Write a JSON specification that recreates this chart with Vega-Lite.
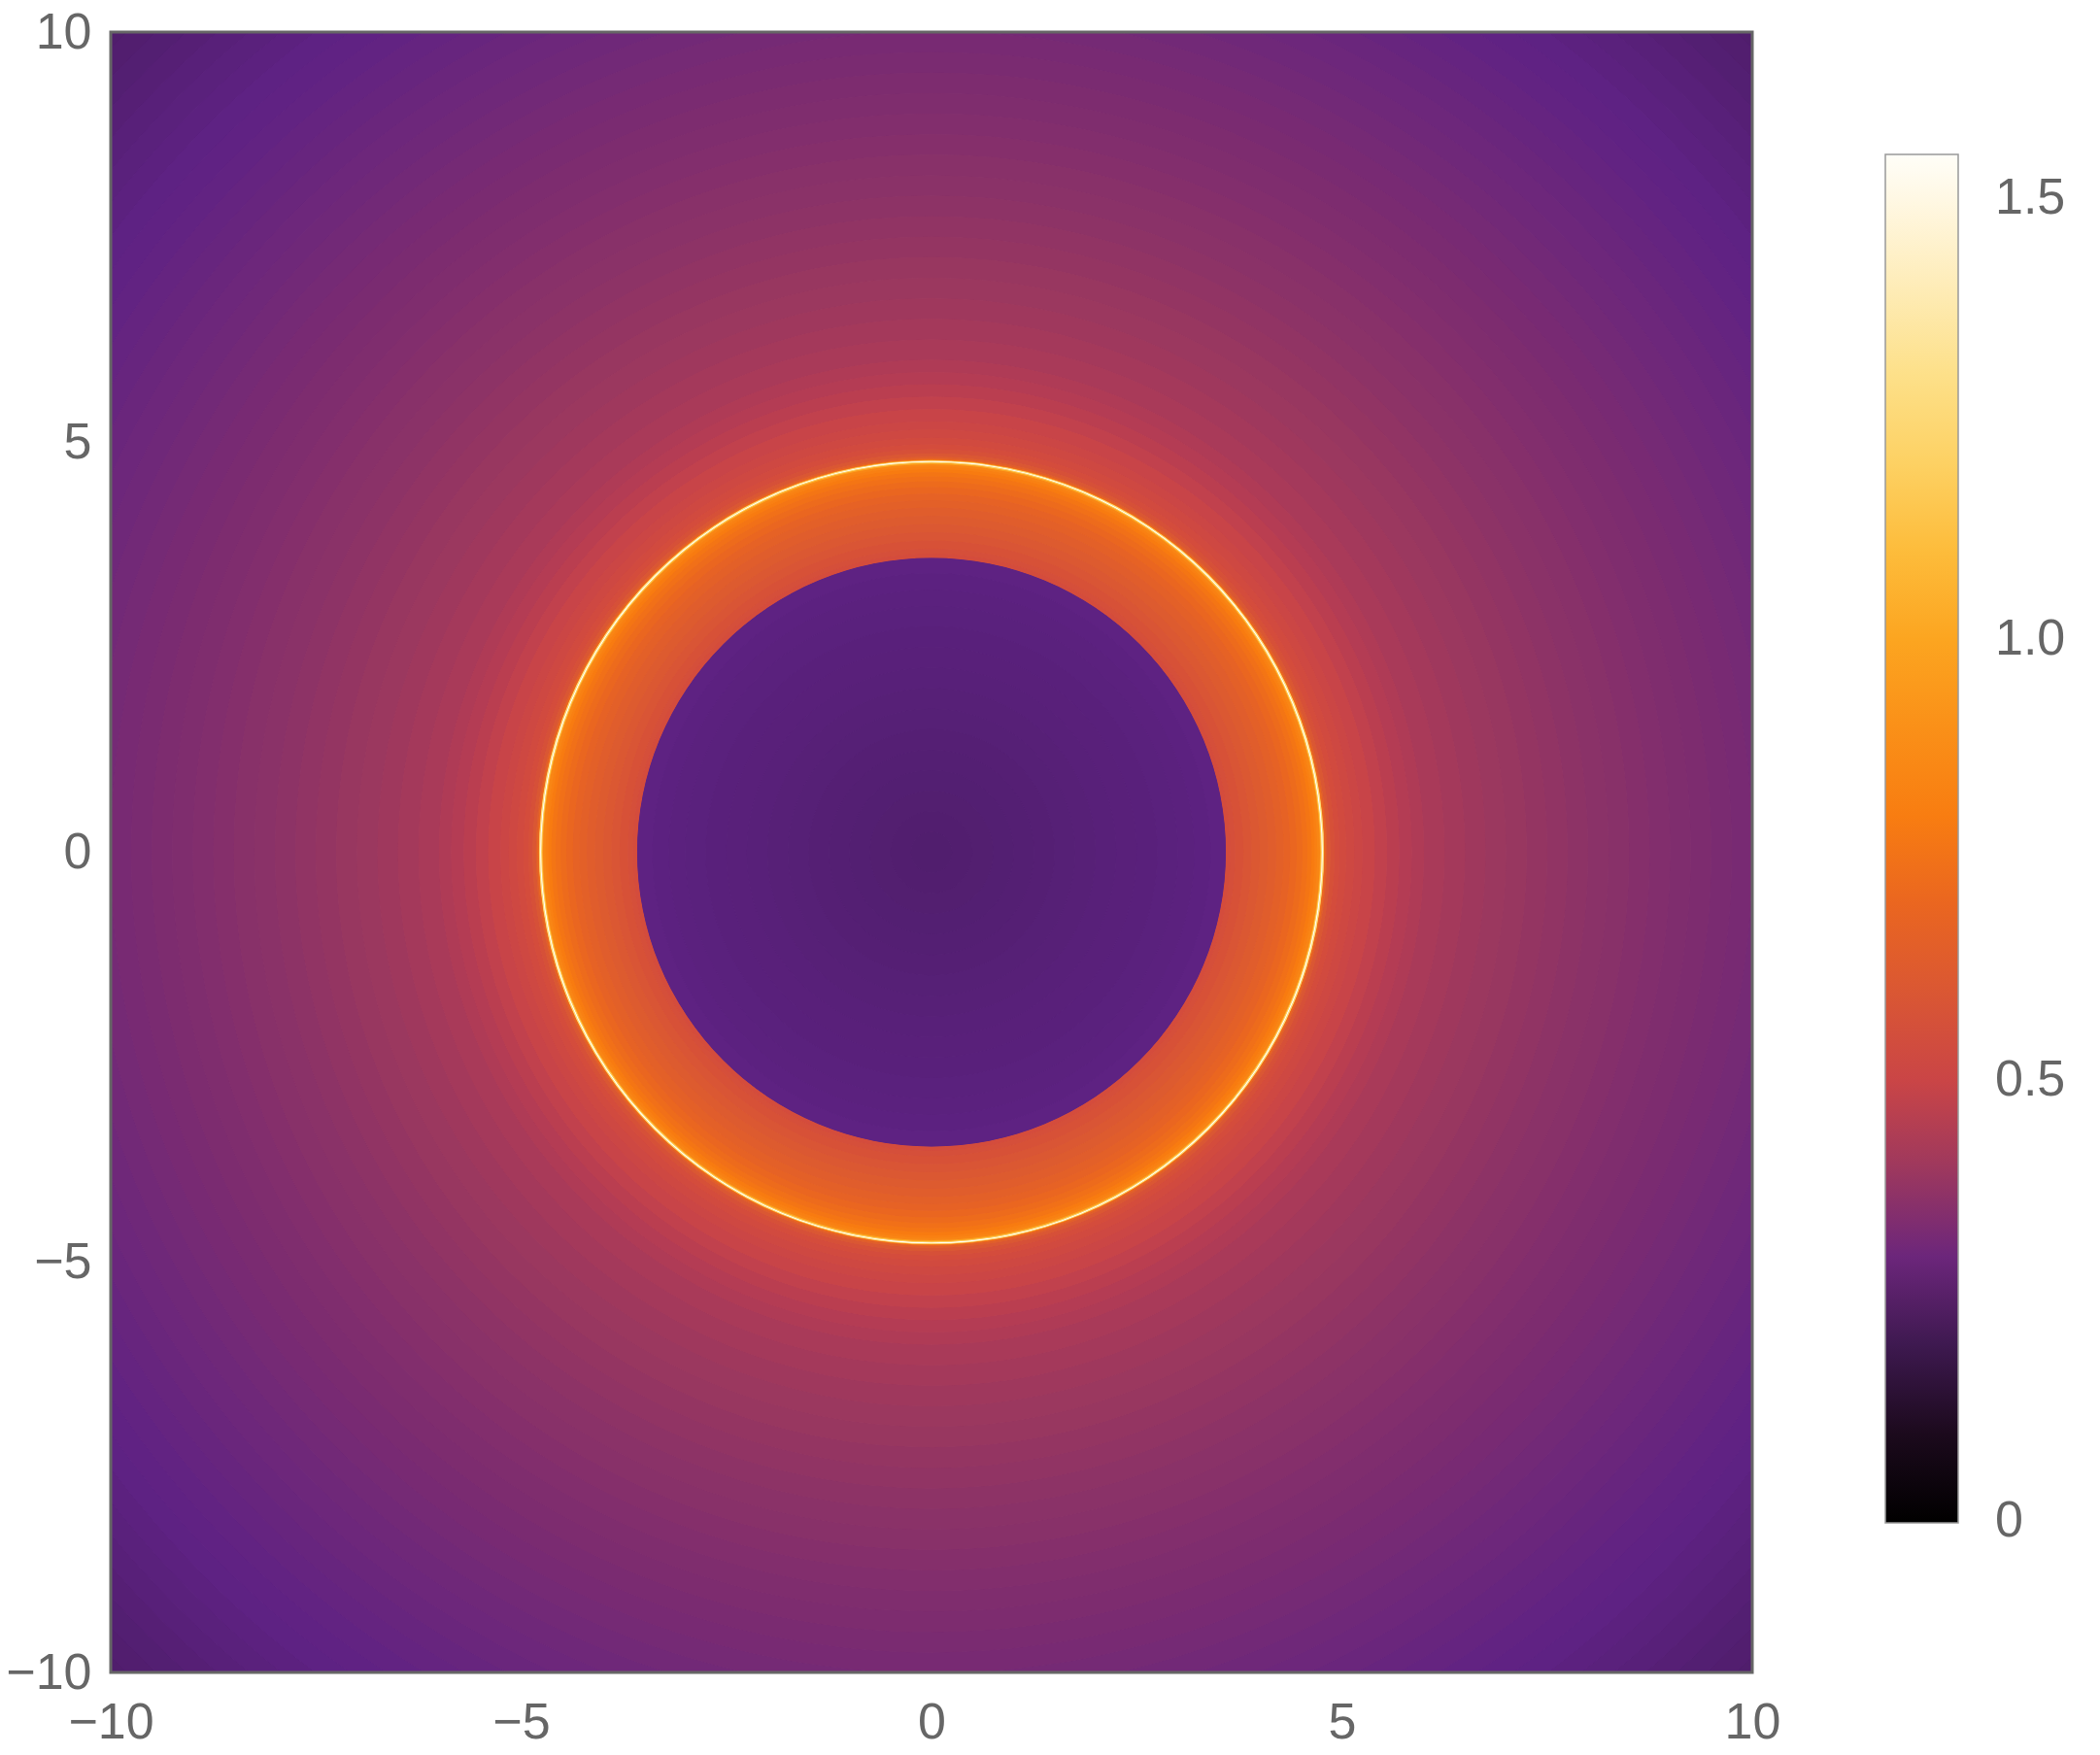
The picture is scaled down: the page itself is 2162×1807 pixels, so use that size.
{
  "$schema": "https://vega.github.io/schema/vega-lite/v6.json",
  "width": 1690,
  "height": 1689,
  "autosize": {"type": "none"},
  "padding": {"left": 114, "top": 33, "right": 358, "bottom": 85},
  "background": "white",
  "config": {"view": {"stroke": null}},
  "data": {"values": [
    {"r": 14.2, "r0": 14.0, "v": 0.242}, {"r": 14.0, "r0": 13.75, "v": 0.246}, {"r": 13.75, "r0": 13.5, "v": 0.25},
    {"r": 13.5, "r0": 13.25, "v": 0.255}, {"r": 13.25, "r0": 13.0, "v": 0.26}, {"r": 13.0, "r0": 12.75, "v": 0.265},
    {"r": 12.75, "r0": 12.5, "v": 0.27}, {"r": 12.5, "r0": 12.25, "v": 0.275}, {"r": 12.25, "r0": 12.0, "v": 0.279},
    {"r": 12.0, "r0": 11.75, "v": 0.283}, {"r": 11.75, "r0": 11.5, "v": 0.288}, {"r": 11.5, "r0": 11.25, "v": 0.292},
    {"r": 11.25, "r0": 11.0, "v": 0.297}, {"r": 11.0, "r0": 10.75, "v": 0.302}, {"r": 10.75, "r0": 10.5, "v": 0.307},
    {"r": 10.5, "r0": 10.25, "v": 0.312}, {"r": 10.25, "r0": 10.0, "v": 0.317}, {"r": 10.0, "r0": 9.75, "v": 0.322},
    {"r": 9.75, "r0": 9.5, "v": 0.327}, {"r": 9.5, "r0": 9.25, "v": 0.332}, {"r": 9.25, "r0": 9.0, "v": 0.337},
    {"r": 9.0, "r0": 8.75, "v": 0.343}, {"r": 8.75, "r0": 8.5, "v": 0.349}, {"r": 8.5, "r0": 8.25, "v": 0.355},
    {"r": 8.25, "r0": 8.0, "v": 0.361}, {"r": 8.0, "r0": 7.75, "v": 0.367}, {"r": 7.75, "r0": 7.5, "v": 0.374},
    {"r": 7.5, "r0": 7.25, "v": 0.381}, {"r": 7.25, "r0": 7.0, "v": 0.389}, {"r": 7.0, "r0": 6.75, "v": 0.397},
    {"r": 6.75, "r0": 6.5, "v": 0.406}, {"r": 6.5, "r0": 6.25, "v": 0.416}, {"r": 6.25, "r0": 6.0, "v": 0.427},
    {"r": 6.0, "r0": 5.85, "v": 0.44}, {"r": 5.85, "r0": 5.7, "v": 0.45}, {"r": 5.7, "r0": 5.55, "v": 0.462},
    {"r": 5.55, "r0": 5.4, "v": 0.475}, {"r": 5.4, "r0": 5.25, "v": 0.49}, {"r": 5.25, "r0": 5.15, "v": 0.505},
    {"r": 5.15, "r0": 5.05, "v": 0.52}, {"r": 5.05, "r0": 4.97, "v": 0.535}, {"r": 4.97, "r0": 4.91, "v": 0.55},
    {"r": 4.91, "r0": 4.86, "v": 0.57}, {"r": 4.86, "r0": 4.82, "v": 0.6}, {"r": 4.82, "r0": 4.795, "v": 0.64},
    {"r": 4.795, "r0": 4.782, "v": 0.7}, {"r": 4.782, "r0": 4.773, "v": 0.85}, {"r": 4.773, "r0": 4.764, "v": 1.25},
    {"r": 4.764, "r0": 4.754, "v": 1.55}, {"r": 4.754, "r0": 4.742, "v": 1.2}, {"r": 4.742, "r0": 4.725, "v": 0.98},
    {"r": 4.725, "r0": 4.7, "v": 0.85}, {"r": 4.7, "r0": 4.67, "v": 0.82}, {"r": 4.67, "r0": 4.63, "v": 0.79},
    {"r": 4.63, "r0": 4.58, "v": 0.765}, {"r": 4.58, "r0": 4.52, "v": 0.745}, {"r": 4.52, "r0": 4.45, "v": 0.72},
    {"r": 4.45, "r0": 4.37, "v": 0.7}, {"r": 4.37, "r0": 4.29, "v": 0.675}, {"r": 4.29, "r0": 4.2, "v": 0.655},
    {"r": 4.2, "r0": 4.1, "v": 0.638}, {"r": 4.1, "r0": 4.0, "v": 0.622}, {"r": 4.0, "r0": 3.9, "v": 0.605},
    {"r": 3.9, "r0": 3.8, "v": 0.59}, {"r": 3.8, "r0": 3.7, "v": 0.575}, {"r": 3.7, "r0": 3.64, "v": 0.562},
    {"r": 3.64, "r0": 3.586, "v": 0.55},
    {"r": 3.586, "r0": 3.4, "v": 0.274}, {"r": 3.4, "r0": 3.2, "v": 0.271}, {"r": 3.2, "r0": 3.0, "v": 0.268},
    {"r": 3.0, "r0": 2.75, "v": 0.266}, {"r": 2.75, "r0": 2.5, "v": 0.264}, {"r": 2.5, "r0": 2.25, "v": 0.262},
    {"r": 2.25, "r0": 2.0, "v": 0.26}, {"r": 2.0, "r0": 1.75, "v": 0.258}, {"r": 1.75, "r0": 1.5, "v": 0.256},
    {"r": 1.5, "r0": 1.25, "v": 0.254}, {"r": 1.25, "r0": 1.0, "v": 0.252}, {"r": 1.0, "r0": 0.75, "v": 0.25},
    {"r": 0.75, "r0": 0.5, "v": 0.248}, {"r": 0.5, "r0": 0.25, "v": 0.246}, {"r": 0.25, "r0": 0, "v": 0.245}
  ]},
  "layer": [
    {
      "mark": {"type": "arc", "clip": true},
      "encoding": {
        "radius": {"field": "r", "type": "quantitative", "scale": {"type": "linear", "domain": [0, 10], "range": [0, 845], "zero": true}},
        "radius2": {"field": "r0"},
        "color": {
          "field": "v", "type": "quantitative",
          "scale": {
            "type": "linear", "interpolate": "rgb",
            "domain": [-0.002, 0.07, 0.14, 0.2, 0.277, 0.33, 0.39, 0.45, 0.49, 0.55, 0.615, 0.7, 0.787, 0.9, 1.0, 1.12, 1.23, 1.34, 1.45, 1.55],
            "range": ["#000000", "#13060f", "#27102f", "#3e1950", "#5f2284", "#7c2c70", "#983760", "#b43c54", "#c84448", "#d44c3c", "#dc5a30", "#ea6620", "#f87a10", "#fa9018", "#fca520", "#fdc040", "#fdd870", "#fde598", "#fef2d0", "#fffef8"]
          },
          "legend": {
            "type": "gradient",
            "orient": "none", "legendX": 1827, "legendY": 126, "padding": 0,
            "direction": "vertical", "title": null,
            "gradientLength": 1409, "gradientThickness": 75,
            "gradientStrokeColor": "#999999", "gradientStrokeWidth": 1.5,
            "values": [0, 0.5, 1, 1.5],
            "labelExpr": "datum.value == 0 ? '0' : format(datum.value, '.1f')",
            "labelFont": "Liberation Sans", "labelFontSize": 52, "labelColor": "#666666",
            "labelOffset": 38, "labelBaseline": "middle", "labelOverlap": false
          }
        }
      }
    },
    {
      "mark": {"type": "arc", "clip": true},
      "encoding": {
        "radius": {"field": "r", "type": "quantitative"},
        "radius2": {"field": "r0"},
        "color": {"field": "v", "type": "quantitative"}
      }
    },
    {
      "mark": {"type": "arc", "clip": true},
      "encoding": {
        "radius": {"field": "r", "type": "quantitative"},
        "radius2": {"field": "r0"},
        "color": {"field": "v", "type": "quantitative"}
      }
    },
    {
      "data": {"values": [{}]},
      "mark": {"type": "rect", "fill": "white", "fillOpacity": 0, "stroke": "#666666", "strokeWidth": 3},
      "encoding": {
        "x": {"datum": -10, "type": "quantitative", "scale": {"domain": [-10, 10], "nice": false, "zero": false},
          "axis": {"values": [-10, -5, 0, 5, 10], "ticks": false, "domain": false, "grid": false, "title": null, "format": "d",
            "labelFont": "Liberation Sans", "labelFontSize": 52, "labelColor": "#666666", "labelPadding": 26, "labelFlush": false, "labelOverlap": false}},
        "x2": {"datum": 10},
        "y": {"datum": -10, "type": "quantitative", "scale": {"domain": [-10, 10], "nice": false, "zero": false},
          "axis": {"values": [-10, -5, 0, 5, 10], "ticks": false, "domain": false, "grid": false, "title": null, "format": "d",
            "labelFont": "Liberation Sans", "labelFontSize": 52, "labelColor": "#666666", "labelPadding": 20, "labelFlush": false, "labelOverlap": false}},
        "y2": {"datum": 10}
      }
    }
  ]
}
